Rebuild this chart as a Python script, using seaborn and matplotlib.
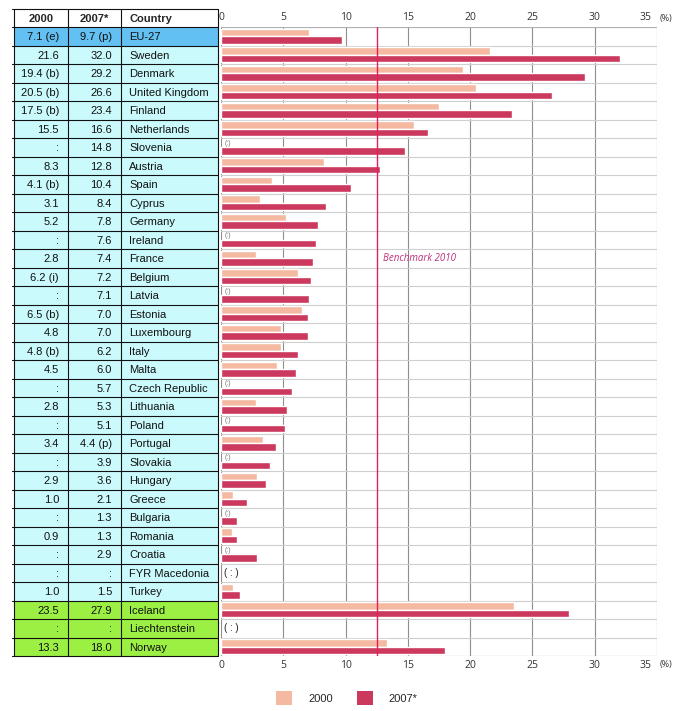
import numpy as np
import pandas as pd
import matplotlib
matplotlib.use("Agg")
import matplotlib.pyplot as plt
from matplotlib.patches import Patch, Rectangle
import seaborn as sns

nan = np.nan
countries = ["EU-27", "Sweden", "Denmark", "United Kingdom", "Finland", "Netherlands",
             "Slovenia", "Austria", "Spain", "Cyprus", "Germany", "Ireland", "France",
             "Belgium", "Latvia", "Estonia", "Luxembourg", "Italy", "Malta",
             "Czech Republic", "Lithuania", "Poland", "Portugal", "Slovakia", "Hungary",
             "Greece", "Bulgaria", "Romania", "Croatia", "FYR Macedonia", "Turkey",
             "Iceland", "Liechtenstein", "Norway"]
v2000 = [7.1, 21.6, 19.4, 20.5, 17.5, 15.5, nan, 8.3, 4.1, 3.1, 5.2, nan, 2.8,
         6.2, nan, 6.5, 4.8, 4.8, 4.5, nan, 2.8, nan, 3.4, nan, 2.9,
         1.0, nan, 0.9, nan, nan, 1.0, 23.5, nan, 13.3]
v2007 = [9.7, 32.0, 29.2, 26.6, 23.4, 16.6, 14.8, 12.8, 10.4, 8.4, 7.8, 7.6, 7.4,
         7.2, 7.1, 7.0, 7.0, 6.2, 6.0, 5.7, 5.3, 5.1, 4.4, 3.9, 3.6,
         2.1, 1.3, 1.3, 2.9, nan, 1.5, 27.9, nan, 18.0]
flags2000 = {"EU-27": "(e)", "Denmark": "(b)", "United Kingdom": "(b)", "Finland": "(b)",
             "Spain": "(b)", "Belgium": "(i)", "Estonia": "(b)", "Italy": "(b)"}
flags2007 = {"EU-27": "(p)", "Portugal": "(p)"}
series = ["2000", "2007*"]
benchmark = 12.5
benchmark_label = "Benchmark 2010"
xticks = [0, 5, 10, 15, 20, 25, 30, 35]
xticklabels = ["0", "5", "10", "15", "20", "25", "30", ""]

c2000 = "#f5b9a2"
c2007 = "#cb3a5e"

sns.set_style("white")
plt.rcParams['font.family'] = ['Liberation Sans', 'DejaVu Sans']
tick_font = ["Open Sans", "DejaVu Sans"]

df = pd.DataFrame({
    "country": countries * 2,
    "series": [series[0]] * len(countries) + [series[1]] * len(countries),
    "value": v2000 + v2007,
})

W, H = 678, 711
fig = plt.figure(figsize=(W / 100, H / 100), dpi=100)

top_px, bot_px = 27, 656
nrows = len(countries)
rowh = (bot_px - top_px) / nrows

ax = fig.add_axes([221 / W, 1 - bot_px / H, (657 - 221) / W, (bot_px - top_px) / H])
sns.barplot(data=df, y="country", x="value", hue="series", order=countries,
            hue_order=series, palette=[c2000, c2007], orient="h", width=0.8,
            errorbar=None, saturation=1, legend=False, ax=ax, zorder=3)
ax.set_xlim(0, 35)
ax.set_ylim(nrows - 0.5, -0.5)
ax.set_xlabel("")
ax.set_ylabel("")
ax.set_yticks([])
for s in ax.spines.values():
    s.set_visible(False)
pad_pt = 3
ax.set_xticks(xticks)
ax.set_xticklabels(xticklabels)
ax.tick_params(axis="x", labeltop=True, labelbottom=True, top=False, bottom=False,
               length=0, pad=pad_pt, labelsize=7.5, labelcolor="#333333")
for lab in ax.get_xticklabels():
    lab.set_fontfamily(tick_font)
for xv in xticks:
    ax.axvline(xv, color="#8e8e8e", lw=0.8, zorder=1)
for k in range(nrows + 1):
    ax.axhline(k - 0.5, color="#cfcfcf", lw=0.8, zorder=1)
ax.axhline(-0.5, color="#b0b0b0", lw=0.8, zorder=1)
ax.axhline(nrows - 0.5, color="#b0b0b0", lw=0.8, zorder=1)
ax.axvline(benchmark, color="#e0205c", lw=1.0, zorder=4)
ax.text(13.0, countries.index("France"), benchmark_label, fontsize=7, style="italic",
        color="#c0307a", va="center", ha="left", family=tick_font)

# last tick label "35" shifted left plus unit label, aligned like the tick labels
for yfrac, sgn, va in ((1.0, 1, "bottom"), (0.0, -1, "top")):
    ax.annotate("35", xy=(35, yfrac), xycoords=("data", "axes fraction"),
                xytext=(-8, sgn * pad_pt), textcoords="offset points", ha="center", va=va,
                fontsize=7.5, color="#333333", family=tick_font, annotation_clip=False)
    ax.annotate("(%)", xy=(35, yfrac), xycoords=("data", "axes fraction"),
                xytext=(2, sgn * pad_pt), textcoords="offset points", ha="left", va=va,
                fontsize=6.5, color="#333333", family=tick_font, annotation_clip=False)

# missing markers
for i, c in enumerate(countries):
    a, b = v2000[i], v2007[i]
    if np.isnan(a) and np.isnan(b):
        ax.text(0.25, i, "( : )", fontsize=7, color="#222222", va="center", ha="left")
    elif np.isnan(a):
        ax.text(0.3, i - 0.22, "(:)", fontsize=5, color="#777777", va="center", ha="left")

# table
tax = fig.add_axes([14 / W, 1 - bot_px / H, 204 / W, (bot_px - top_px + rowh) / H])
tax.set_xlim(14, 218)
tax.set_ylim(nrows - 0.5, -1.5)
tax.axis("off")
col_x = [14, 68, 121, 218]
for i, c in enumerate(countries):
    if i == 0:
        fc = "#62c0f2"
    elif c in ("Iceland", "Liechtenstein", "Norway"):
        fc = "#9cf044"
    else:
        fc = "#cbfafc"
    tax.add_patch(Rectangle((14, i - 0.5), 204, 1, facecolor=fc, edgecolor="none"))
    a, b = v2000[i], v2007[i]
    sa = ":" if np.isnan(a) else f"{a:.1f}"
    sb = ":" if np.isnan(b) else f"{b:.1f}"
    if c in flags2000:
        sa += " " + flags2000[c]
    if c in flags2007:
        sb += " " + flags2007[c]
    tax.text(59, i + 0.05, sa, ha="right", va="center", fontsize=8, color="#111111")
    tax.text(112, i + 0.05, sb, ha="right", va="center", fontsize=8, color="#111111")
    tax.text(129, i + 0.05, c, ha="left", va="center", fontsize=8, color="#111111")
tax.text(41, -1 + 0.05, series[0], ha="center", va="center", fontsize=8, weight="bold")
tax.text(94, -1 + 0.05, series[1], ha="center", va="center", fontsize=8, weight="bold")
tax.text(129, -1 + 0.05, "Country", ha="left", va="center", fontsize=8, weight="bold")
for k in range(-1, nrows + 1):
    tax.plot([12, 218], [k - 0.5, k - 0.5], color="#111111", lw=0.8, clip_on=False)
for xv in col_x:
    tax.plot([xv, xv], [-1.5, nrows - 0.5], color="#111111", lw=0.8, clip_on=False)

handles = [Patch(facecolor=c2000, edgecolor="none", label=series[0]),
           Patch(facecolor=c2007, edgecolor="none", label=series[1])]
fig.legend(handles=handles, loc="center", bbox_to_anchor=(347 / W, 1 - 698 / H), ncol=2,
           frameon=False, fontsize=8, handlelength=1.45, handleheight=1.45,
           handletextpad=1.4, columnspacing=2.2)

fig.savefig("out.png", dpi=100)
